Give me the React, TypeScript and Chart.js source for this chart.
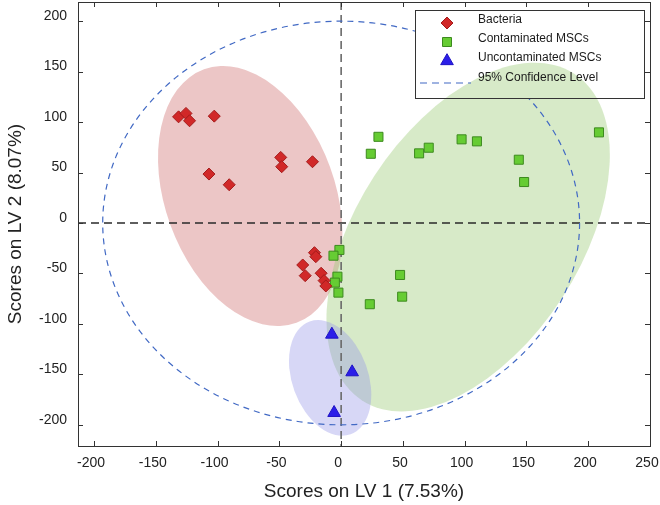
import React, { useEffect, useRef } from 'react';
import { Chart, registerables } from 'chart.js';

Chart.register(...registerables);

// ---- data (scores on LV1 / LV2) ----
const bacteriaX = [-131.6, -125.6, -122.7, -102.7, -48.9, -48.1, -23.2, -107.0, -90.6, -21.6, -20.5, -31.1, -29.1, -16.2, -13.8, -12.4];
const bacteriaY = [105.2, 108.6, 101.3, 105.9, 65.0, 55.8, 60.7, 48.5, 37.9, -29.4, -33.4, -41.6, -52.2, -49.8, -57.1, -62.4];

const contaminatedX = [30.2, 24.0, 63.1, 70.9, 97.5, 109.9, 143.8, 148.1, 208.7, -1.4, -6.2, -3.0, -5.1, -2.2, 47.7, 49.4, 23.2];
const contaminatedY = [85.4, 68.6, 69.0, 74.6, 82.9, 80.9, 62.7, 40.6, 89.8, -26.7, -32.4, -53.2, -59.1, -69.0, -51.5, -73.0, -80.5];

const uncontaminatedX = [-7.5, 8.9, -5.7];
const uncontaminatedY = [-110.5, -147.8, -188.1];

const seriesLabels = ['Bacteria', 'Contaminated MSCs', 'Uncontaminated MSCs'];
const confidenceLabel = '95% Confidence Level';

const xTicks = [-200, -150, -100, -50, 0, 50, 100, 150, 200, 250];
const yTicks = [-200, -150, -100, -50, 0, 50, 100, 150, 200];
const X_MIN = -213;
const X_MAX = 250;
const Y_MIN = -221;
const Y_MAX = 219;

// group ellipses: centre and two conjugate semi-axis vectors (data units)
const bacteriaEllipse = [-73.6, 26.7, -37.4, 125.6, 64.6, 28.8];
const contaminatedEllipse = [102.8, -13.9, 85.9, 161.9, 76.0, -60.4];
const uncontaminatedEllipse = [-8.9, -153.5, -16.6, 55.8, 28.9, 12.9];
// 95% confidence ellipse: centre, radius x, radius y
const confidenceEllipse = [0, 0, 193, 200];

const FONT = '"Liberation Sans", Arial, Helvetica, sans-serif';

const ellipseFills = [
  { e: bacteriaEllipse, color: 'rgba(207,112,112,0.40)' },
  { e: contaminatedEllipse, color: 'rgba(155,203,118,0.40)' },
  { e: uncontaminatedEllipse, color: 'rgba(150,150,232,0.38)' },
];

function ellipsePath(ctx: CanvasRenderingContext2D, chart: any, e: number[]) {
  const xs = chart.scales.x;
  const ys = chart.scales.y;
  const cx = xs.getPixelForValue(e[0]);
  const cy = ys.getPixelForValue(e[1]);
  const ux = xs.getPixelForValue(e[0] + e[2]) - cx;
  const uy = ys.getPixelForValue(e[1] + e[3]) - cy;
  const vx = xs.getPixelForValue(e[0] + e[4]) - cx;
  const vy = ys.getPixelForValue(e[1] + e[5]) - cy;
  ctx.save();
  ctx.transform(ux, uy, vx, vy, cx, cy);
  ctx.beginPath();
  ctx.arc(0, 0, 1, 0, Math.PI * 2);
  ctx.closePath();
  ctx.restore();
}

const backdropPlugin = {
  id: 'backdrop',
  beforeDatasetsDraw(chart: any) {
    const { ctx, chartArea: a } = chart;
    const xs = chart.scales.x;
    const ys = chart.scales.y;
    ctx.save();
    ctx.beginPath();
    ctx.rect(a.left, a.top, a.right - a.left, a.bottom - a.top);
    ctx.clip();
    for (const f of ellipseFills) {
      ellipsePath(ctx, chart, f.e);
      ctx.fillStyle = f.color;
      ctx.fill();
    }
    // zero lines
    const x0 = xs.getPixelForValue(0);
    const y0 = ys.getPixelForValue(0);
    ctx.setLineDash([8, 5]);
    ctx.lineWidth = 1.3;
    ctx.strokeStyle = '#2a2a2a';
    ctx.beginPath();
    ctx.moveTo(a.left, y0);
    ctx.lineTo(a.right, y0);
    ctx.stroke();
    ctx.strokeStyle = '#6a6a6a';
    ctx.lineWidth = 1.6;
    ctx.beginPath();
    ctx.moveTo(x0, a.top);
    ctx.lineTo(x0, a.bottom);
    ctx.stroke();
    // confidence ellipse
    const c = confidenceEllipse;
    const ccx = xs.getPixelForValue(c[0]);
    const ccy = ys.getPixelForValue(c[1]);
    const rx = Math.abs(xs.getPixelForValue(c[0] + c[2]) - ccx);
    const ry = Math.abs(ys.getPixelForValue(c[1] + c[3]) - ccy);
    ctx.setLineDash([6, 5]);
    ctx.lineWidth = 1.2;
    ctx.strokeStyle = '#4169c4';
    ctx.beginPath();
    ctx.ellipse(ccx, ccy, rx, ry, 0, 0, Math.PI * 2);
    ctx.stroke();
    ctx.restore();
  },
  afterDatasetsDraw(chart: any) {
    const { ctx, chartArea: a } = chart;
    const xs = chart.scales.x;
    const ys = chart.scales.y;
    ctx.save();
    ctx.setLineDash([]);
    ctx.strokeStyle = '#333';
    ctx.lineWidth = 1;
    ctx.strokeRect(Math.round(a.left) + 0.5, Math.round(a.top) + 0.5, Math.round(a.right - a.left), Math.round(a.bottom - a.top));
    ctx.beginPath();
    const tl = 5;
    for (const v of xTicks) {
      const p = Math.round(xs.getPixelForValue(v)) + 0.5;
      ctx.moveTo(p, a.bottom);
      ctx.lineTo(p, a.bottom - tl);
      ctx.moveTo(p, a.top);
      ctx.lineTo(p, a.top + tl);
    }
    for (const v of yTicks) {
      const p = Math.round(ys.getPixelForValue(v)) + 0.5;
      ctx.moveTo(a.left, p);
      ctx.lineTo(a.left + tl, p);
      ctx.moveTo(a.right, p);
      ctx.lineTo(a.right - tl, p);
    }
    ctx.stroke();

    // legend
    const L = { x: 415, y: 10, w: 229, h: 88 };
    ctx.fillStyle = '#ffffff';
    ctx.fillRect(L.x, L.y, L.w, L.h);
    ctx.save();
    ctx.beginPath();
    ctx.rect(L.x, L.y, L.w, L.h);
    ctx.clip();
    for (const f of ellipseFills) {
      ellipsePath(ctx, chart, f.e);
      ctx.fillStyle = f.color;
      ctx.fill();
    }
    ctx.restore();
    ctx.strokeStyle = '#333';
    ctx.lineWidth = 1;
    ctx.strokeRect(L.x + 0.5, L.y + 0.5, L.w, L.h);

    const rows = [20, 39, 58, 78];
    const mx = 447;
    const tx = 478;
    ctx.font = '12px ' + FONT;
    ctx.textBaseline = 'middle';
    ctx.textAlign = 'left';
    const ds = chart.data.datasets;
    ds.forEach((d: any, i: number) => {
      const cy = rows[i] + 3;
      ctx.fillStyle = d.backgroundColor;
      ctx.strokeStyle = d.borderColor;
      ctx.lineWidth = 1;
      ctx.beginPath();
      if (d.pointStyle === 'rectRot') {
        const r = 6;
        ctx.moveTo(mx - r, cy);
        ctx.lineTo(mx, cy - r);
        ctx.lineTo(mx + r, cy);
        ctx.lineTo(mx, cy + r);
      } else if (d.pointStyle === 'rect') {
        const s = 4.5;
        ctx.rect(mx - s, cy - s, 2 * s, 2 * s);
      } else {
        const r = 7.3;
        ctx.moveTo(mx, cy - r);
        ctx.lineTo(mx + r * 0.866, cy + r / 2);
        ctx.lineTo(mx - r * 0.866, cy + r / 2);
      }
      ctx.closePath();
      ctx.fill();
      ctx.stroke();
      ctx.fillStyle = '#1a1a1a';
      ctx.fillText(d.label, tx, rows[i]);
    });
    ctx.setLineDash([7, 5]);
    ctx.strokeStyle = '#4169c4';
    ctx.lineWidth = 1.2;
    ctx.beginPath();
    ctx.moveTo(420, rows[3] + 5);
    ctx.lineTo(471, rows[3] + 5);
    ctx.stroke();
    ctx.setLineDash([]);
    ctx.fillStyle = '#1a1a1a';
    ctx.fillText(confidenceLabel, tx, rows[3]);
    ctx.restore();
  },
};

function toPoints(xs: number[], ys: number[]) {
  return xs.map((x, i) => ({ x, y: ys[i] }));
}

export default function App() {
  const ref = useRef<HTMLCanvasElement>(null);
  useEffect(() => {
    document.body.style.margin = '0';
    Chart.defaults.font.family = FONT;
    const chart = new Chart(ref.current as HTMLCanvasElement, {
      type: 'scatter',
      data: {
        datasets: [
          {
            label: seriesLabels[0],
            data: toPoints(bacteriaX, bacteriaY),
            pointStyle: 'rectRot',
            pointRadius: 6,
            backgroundColor: '#d12828',
            borderColor: '#a31b1b',
            borderWidth: 1,
          },
          {
            label: seriesLabels[1],
            data: toPoints(contaminatedX, contaminatedY),
            pointStyle: 'rect',
            pointRadius: 6.4,
            backgroundColor: '#66cc33',
            borderColor: '#3d8a1f',
            borderWidth: 1,
          },
          {
            label: seriesLabels[2],
            data: toPoints(uncontaminatedX, uncontaminatedY),
            pointStyle: 'triangle',
            pointRadius: 7.3,
            backgroundColor: '#2b1ee8',
            borderColor: '#1e12c4',
            borderWidth: 1,
          },
        ],
      } as any,
      options: {
        animation: false,
        responsive: false,
        devicePixelRatio: 1,
        layout: { autoPadding: false, padding: { top: 2, right: 10, bottom: 0, left: 0 } },
        plugins: { legend: { display: false }, tooltip: { enabled: false } },
        scales: {
          x: {
            type: 'linear',
            position: 'bottom',
            min: X_MIN,
            max: X_MAX,
            grid: { display: false, drawTicks: false },
            border: { display: false },
            afterBuildTicks: (s: any) => {
              s.ticks = xTicks.map((v) => ({ value: v }));
            },
            afterFit: (s: any) => {
              s.height = 59;
              s.paddingLeft = 0;
              s.paddingRight = 0;
              s.paddingTop = 0;
              s.paddingBottom = 0;
            },
            ticks: {
              padding: 9,
              labelOffset: -3,
              color: '#222',
              font: { size: 14 },
              maxRotation: 0,
              autoSkip: false,
              callback: (v: any) => String(v),
            },
            title: {
              display: true,
              text: 'Scores on LV 1 (7.53%)',
              color: '#222',
              font: { size: 19 },
              padding: { top: 0, bottom: 2 },
            },
          },
          y: {
            type: 'linear',
            position: 'left',
            min: Y_MIN,
            max: Y_MAX,
            grid: { display: false, drawTicks: false },
            border: { display: false },
            afterBuildTicks: (s: any) => {
              s.ticks = yTicks.map((v) => ({ value: v }));
            },
            afterFit: (s: any) => {
              s.width = 78;
              s.paddingLeft = 0;
              s.paddingRight = 0;
              s.paddingTop = 0;
              s.paddingBottom = 0;
            },
            ticks: {
              padding: 11,
              labelOffset: -5,
              color: '#222',
              font: { size: 14 },
              autoSkip: false,
              callback: (v: any) => String(v),
            },
            title: {
              display: true,
              text: 'Scores on LV 2 (8.07%)',
              color: '#222',
              font: { size: 19 },
              padding: { top: 4, bottom: 0 },
            },
          },
        },
      } as any,
      plugins: [backdropPlugin],
    });
    return () => chart.destroy();
  }, []);
  return (
    <div style={{ position: 'absolute', left: 0, top: 0, width: 660, height: 505 }}>
      <canvas ref={ref} width={660} height={505} style={{ display: 'block', width: 660, height: 505 }} />
    </div>
  );
}
